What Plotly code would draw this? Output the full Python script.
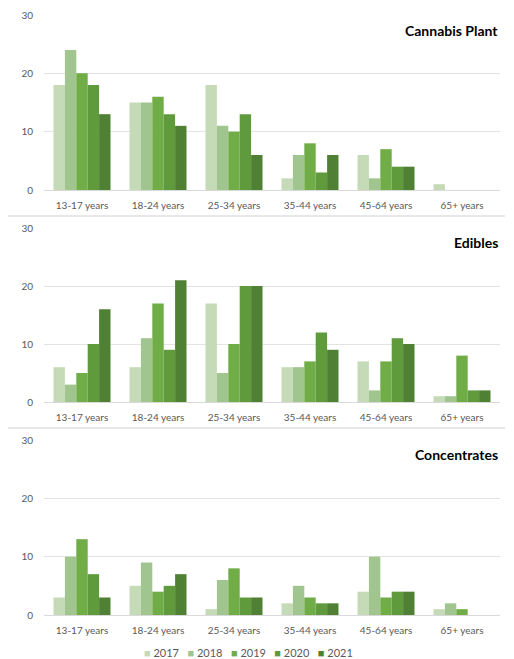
import plotly.graph_objects as go

categories = ["13-17 years", "18-24 years", "25-34 years", "35-44 years", "45-64 years", "65+ years"]
years = ["2017", "2018", "2019", "2020", "2021"]
colors = ["#c5dab7", "#a0c58f", "#70ad47", "#5f9b3c", "#4f8033"]

panel_titles = ["Cannabis Plant", "Edibles", "Concentrates"]

cannabis_2017 = [18, 15, 18, 2, 6, 1]
cannabis_2018 = [24, 15, 11, 6, 2, 0]
cannabis_2019 = [20, 16, 10, 8, 7, 0]
cannabis_2020 = [18, 13, 13, 3, 4, 0]
cannabis_2021 = [13, 11, 6, 6, 4, 0]

edibles_2017 = [6, 6, 17, 6, 7, 1]
edibles_2018 = [3, 11, 5, 6, 2, 1]
edibles_2019 = [5, 17, 10, 7, 7, 8]
edibles_2020 = [10, 9, 20, 12, 11, 2]
edibles_2021 = [16, 21, 20, 9, 10, 2]

conc_2017 = [3, 5, 1, 2, 4, 1]
conc_2018 = [10, 9, 6, 5, 10, 2]
conc_2019 = [13, 4, 8, 3, 3, 1]
conc_2020 = [7, 5, 3, 2, 4, 0]
conc_2021 = [3, 7, 3, 2, 4, 0]

panels = [
    [cannabis_2017, cannabis_2018, cannabis_2019, cannabis_2020, cannabis_2021],
    [edibles_2017, edibles_2018, edibles_2019, edibles_2020, edibles_2021],
    [conc_2017, conc_2018, conc_2019, conc_2020, conc_2021],
]

# the page body adds an 8px offset; size the figure to fit the window
OFF = 8
W, H = 514 - OFF, 659 - OFF
FONT = "Lato"

def fy(py):
    return 1 - (py - OFF) / H

def fx(px):
    return (px - OFF) / W

# pixel positions in the window (y of value 0, y of value 30) for each panel
panel_px = [(190, 15), (402, 228), (615, 440)]
x_dom = [fx(44), fx(500)]

fig = go.Figure()
layout = dict(
    width=W, height=H,
    margin=dict(l=0, r=0, t=0, b=0, autoexpand=False),
    paper_bgcolor="white", plot_bgcolor="white",
    font=dict(family=FONT, size=10, color="#595959"),
    barmode="group", bargap=0.25, bargroupgap=0,
    showlegend=False,
)

annotations = []
shapes = []
for i, series in enumerate(panels):
    n = "" if i == 0 else str(i + 1)
    xa = "x" + n
    ya = "y" + n
    for j, vals in enumerate(series):
        fig.add_trace(go.Bar(
            x=categories, y=vals, name=years[j], marker=dict(color=colors[j], line=dict(width=0)),
            xaxis=xa, yaxis=ya, showlegend=False,
        ))
    y0, y30 = panel_px[i]
    layout["xaxis" + n] = dict(
        domain=x_dom, anchor=ya, range=[-0.5, 5.5], showgrid=False, showline=True,
        linecolor="#d9d9d9", linewidth=1, ticks="", tickfont=dict(size=10, color="#595959"),
        ticklabelstandoff=6, fixedrange=True,
    )
    layout["yaxis" + n] = dict(
        domain=[fy(y0), fy(y30)], anchor=xa, range=[0, 30], tickvals=[0, 10, 20, 30],
        showgrid=True, gridcolor="#e3e3e3", gridwidth=1, zeroline=False, showline=False,
        tickfont=dict(size=10, color="#595959"), ticklabelstandoff=10, fixedrange=True,
    )
    title_px = [30, 242, 454][i]
    annotations.append(dict(
        text="<b>" + panel_titles[i] + "</b>", xref="paper", yref="paper",
        x=fx(500), y=fy(title_px), xanchor="right", yanchor="middle", showarrow=False,
        font=dict(family=FONT, size=14, color="#000000"),
    ))

# compact legend built from the series names and colours
legend_text = "   ".join(
    f'<span style="color:{c}">■</span> {y}' for y, c in zip(years, colors)
)
annotations.append(dict(
    text=legend_text, xref="paper", yref="paper", x=fx(248), y=fy(652),
    xanchor="center", yanchor="middle", showarrow=False,
    font=dict(family=FONT, size=11, color="#595959"),
))

for sep in [216, 428]:
    shapes.append(dict(type="line", xref="paper", yref="paper", x0=0, x1=fx(505),
                       y0=fy(sep), y1=fy(sep), line=dict(color="#e0e0e0", width=1.5)))

layout["annotations"] = annotations
layout["shapes"] = shapes
fig.update_layout(**layout)
fig.write_html("out.html")
